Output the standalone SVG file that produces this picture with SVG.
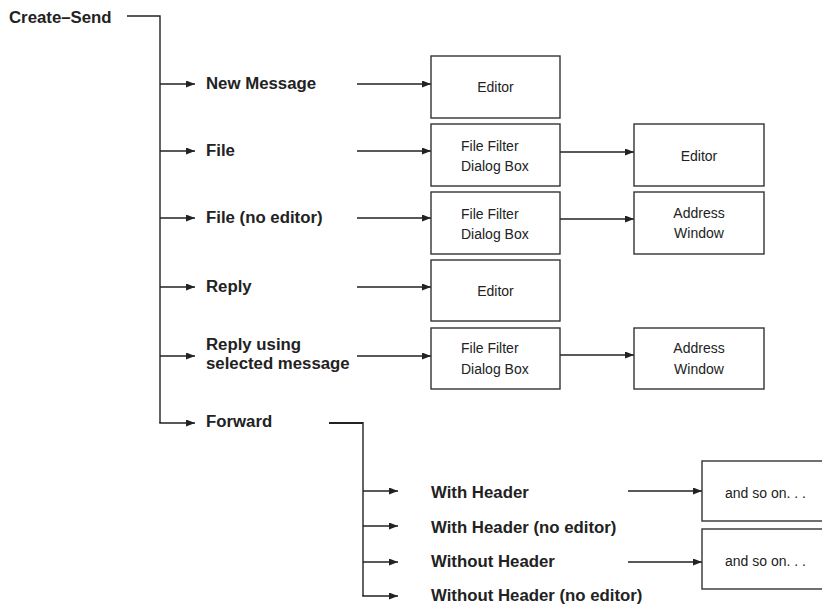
<svg xmlns="http://www.w3.org/2000/svg" width="822" height="606" viewBox="0 0 822 606">
<style>
.lbl{font-family:"Liberation Sans",Arial,sans-serif;font-weight:bold;font-size:16.8px;fill:#222}
.bx{fill:#fff;stroke:#333;stroke-width:1.4}
.bt{font-family:"Liberation Sans",Arial,sans-serif;font-size:14px;fill:#222}
.c{text-anchor:middle}
.ln{fill:none;stroke:#222;stroke-width:1.4}
.ar{marker-end:url(#ah)}
</style>
<defs>
<marker id="ah" markerUnits="userSpaceOnUse" markerWidth="10" markerHeight="8" refX="9" refY="3.5" orient="auto">
<path d="M0,0 L9,3.5 L0,7 z" fill="#222"/>
</marker>
</defs>
<rect width="822" height="606" fill="#fff"/>
<g id="connectors">
<path class="ln" d="M127,16 H160 V423"/>
<line class="ln ar" x1="160" y1="84" x2="195" y2="84"/>
<line class="ln ar" x1="160" y1="151" x2="195" y2="151"/>
<line class="ln ar" x1="160" y1="218" x2="195" y2="218"/>
<line class="ln ar" x1="160" y1="287" x2="195" y2="287"/>
<line class="ln ar" x1="160" y1="356" x2="195" y2="356"/>
<path class="ln ar" d="M160,422 V423 H195"/>
<line class="ln ar" x1="357" y1="84" x2="431" y2="84"/>
<line class="ln ar" x1="357" y1="151" x2="431" y2="151"/>
<line class="ln ar" x1="357" y1="218" x2="431" y2="218"/>
<line class="ln ar" x1="357" y1="287" x2="431" y2="287"/>
<line class="ln ar" x1="357" y1="356" x2="431" y2="356"/>
<line class="ln ar" x1="560" y1="152" x2="634" y2="152"/>
<line class="ln ar" x1="560" y1="219" x2="634" y2="219"/>
<line class="ln ar" x1="560" y1="355" x2="634" y2="355"/>
<line class="ln" style="stroke-width:2" x1="329" y1="423" x2="363" y2="423"/>
<path class="ln" d="M363,422 V596"/>
<line class="ln ar" x1="363" y1="491" x2="398" y2="491"/>
<line class="ln ar" x1="363" y1="526" x2="398" y2="526"/>
<line class="ln ar" x1="363" y1="562" x2="398" y2="562"/>
<path class="ln ar" d="M363,595 V596 H398"/>
<line class="ln ar" x1="628" y1="491" x2="702" y2="491"/>
<line class="ln ar" x1="628" y1="562" x2="702" y2="562"/>
</g>
<g id="create-send"><text class="lbl" x="9" y="23">Create–Send</text></g>
<g id="new-message"><text class="lbl" x="206" y="89">New Message</text></g>
<g id="file"><text class="lbl" x="206" y="156">File</text></g>
<g id="file-no-editor"><text class="lbl" x="206" y="223">File (no editor)</text></g>
<g id="reply"><text class="lbl" x="206" y="291.5">Reply</text></g>
<g id="reply-using"><text class="lbl" x="206" y="350">Reply using</text><text class="lbl" x="206" y="369">selected message</text></g>
<g id="forward"><text class="lbl" x="206" y="427">Forward</text></g>
<g id="with-header"><text class="lbl" x="431" y="497.5">With Header</text></g>
<g id="with-header-no-editor"><text class="lbl" x="431" y="532.5">With Header (no editor)</text></g>
<g id="without-header"><text class="lbl" x="431" y="566.5">Without Header</text></g>
<g id="without-header-no-editor"><text class="lbl" x="431" y="601">Without Header (no editor)</text></g>
<g id="editor1"><rect class="bx" x="431" y="56" width="129" height="62"/><text class="bt c" x="495.5" y="92.3">Editor</text></g>
<g id="filter1"><rect class="bx" x="431" y="124" width="129" height="62"/><text class="bt" x="461" y="150.7">File Filter</text><text class="bt" x="461" y="170.7">Dialog Box</text></g>
<g id="editor2"><rect class="bx" x="634" y="124" width="130" height="62"/><text class="bt c" x="699" y="160.7">Editor</text></g>
<g id="filter2"><rect class="bx" x="431" y="192" width="129" height="62"/><text class="bt" x="461" y="218.5">File Filter</text><text class="bt" x="461" y="238.5">Dialog Box</text></g>
<g id="address1"><rect class="bx" x="634" y="192" width="130" height="62"/><text class="bt c" x="699" y="217.5">Address</text><text class="bt c" x="699" y="238.3">Window</text></g>
<g id="editor3"><rect class="bx" x="431" y="260" width="129" height="61"/><text class="bt c" x="495.5" y="295.7">Editor</text></g>
<g id="filter3"><rect class="bx" x="431" y="328" width="129" height="61"/><text class="bt" x="461" y="353.3">File Filter</text><text class="bt" x="461" y="374">Dialog Box</text></g>
<g id="address2"><rect class="bx" x="634" y="328" width="130" height="61"/><text class="bt c" x="699" y="353.3">Address</text><text class="bt c" x="699" y="374">Window</text></g>
<g id="soon1"><rect class="bx" x="702" y="461" width="124" height="60"/><text class="bt" x="725" y="497.7">and so on. . .</text></g>
<g id="soon2"><rect class="bx" x="702" y="529" width="124" height="60"/><text class="bt" x="725" y="565.5">and so on. . .</text></g>
</svg>
